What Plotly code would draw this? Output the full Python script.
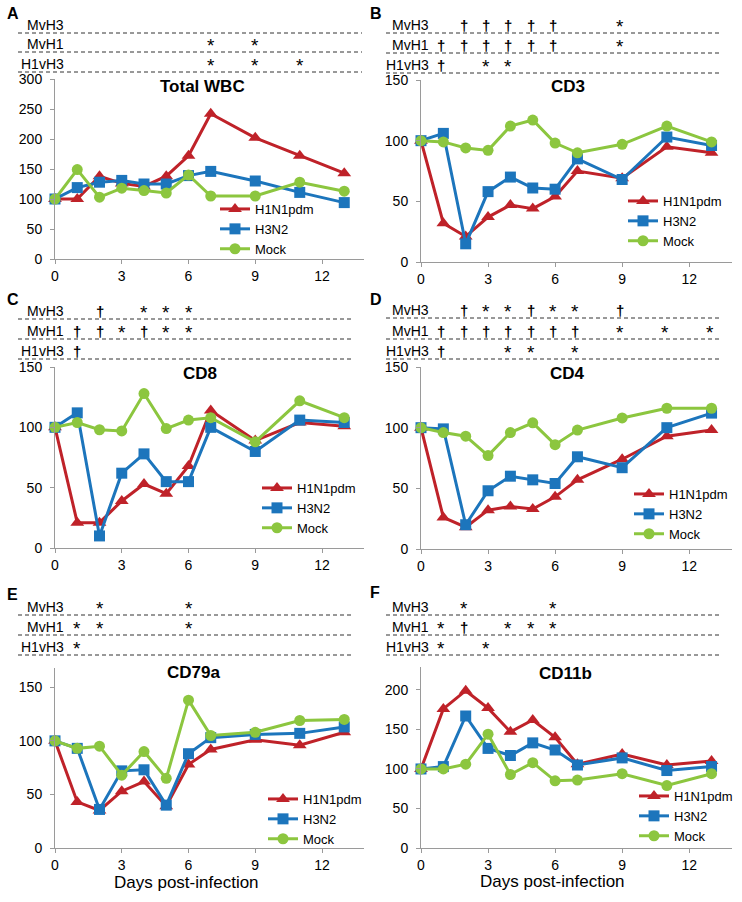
import plotly.graph_objects as go

W, H = 742, 902

days = [0, 1, 2, 3, 4, 5, 6, 7, 9, 11, 13]
series_names = ["H1N1pdm", "H3N2", "Mock"]
x_ticks = [0, 3, 6, 9, 12]

# Panel A - Total WBC
wbc_h1n1 = [100, 100, 138, 126, 121, 138, 172, 242, 202, 172, 143]
wbc_h3n2 = [100, 119, 128, 131, 125, 125, 139, 146, 130, 111, 94]
wbc_mock = [100, 149, 103, 118, 114, 110, 140, 105, 105, 128, 113]
# Panel B - CD3
cd3_h1n1 = [100, 32, 21, 37, 47, 44, 54, 75, 69, 95, 90]
cd3_h3n2 = [100, 106, 15, 58, 70, 61, 60, 85, 68, 103, 96]
cd3_mock = [100, 99, 94, 92, 112, 117, 98, 90, 97, 112, 99]
# Panel C - CD8
cd8_h1n1 = [100, 21, 21, 39, 53, 45, 68, 114, 89, 104, 101]
cd8_h3n2 = [100, 112, 10, 62, 78, 55, 55, 100, 80, 106, 104]
cd8_mock = [100, 104, 98, 97, 128, 99, 106, 108, 88, 122, 108]
# Panel D - CD4
cd4_h1n1 = [100, 26, 18, 32, 35, 33, 43, 57, 74, 93, 98]
cd4_h3n2 = [100, 99, 20, 48, 60, 57, 54, 76, 67, 100, 112]
cd4_mock = [100, 96, 93, 77, 96, 104, 86, 98, 108, 116, 116]
# Panel E - CD79a
cd79a_h1n1 = [100, 43, 35, 53, 62, 39, 78, 92, 101, 96, 108]
cd79a_h3n2 = [100, 93, 36, 72, 73, 40, 88, 103, 106, 107, 113]
cd79a_mock = [100, 93, 95, 68, 90, 65, 138, 105, 108, 119, 120]
# Panel F - CD11b
cd11b_h1n1 = [100, 176, 199, 177, 147, 162, 140, 106, 119, 105, 110]
cd11b_h3n2 = [100, 103, 167, 126, 117, 133, 124, 105, 114, 98, 103]
cd11b_mock = [100, 100, 106, 144, 93, 108, 85, 86, 94, 79, 94]

row_labels = ["MvH3", "MvH1", "H1vH3"]
# significance marks: (day, symbol) per comparison row
sig_A = [[], [(7, "*"), (9, "*")], [(7, "*"), (9, "*"), (11, "*")]]
sig_B = [[(2, "†"), (3, "†"), (4, "†"), (5, "†"), (6, "†"), (9, "*")],
         [(1, "†"), (2, "†"), (3, "†"), (4, "†"), (5, "†"), (6, "†"), (9, "*")],
         [(1, "†"), (3, "*"), (4, "*")]]
sig_C = [[(2, "†"), (4, "*"), (5, "*"), (6, "*")],
         [(1, "†"), (2, "†"), (3, "*"), (4, "†"), (5, "*"), (6, "*")],
         [(1, "†")]]
sig_D = [[(2, "†"), (3, "*"), (4, "*"), (5, "†"), (6, "*"), (7, "*"), (9, "†")],
         [(1, "†"), (2, "†"), (3, "†"), (4, "†"), (5, "†"), (6, "†"), (7, "†"),
          (9, "*"), (11, "*"), (13, "*")],
         [(1, "†"), (4, "*"), (5, "*"), (7, "*")]]
sig_E = [[(2, "*"), (6, "*")], [(1, "*"), (2, "*"), (6, "*")], [(1, "*")]]
sig_F = [[(2, "*"), (6, "*")],
         [(1, "*"), (2, "†"), (4, "*"), (5, "*"), (6, "*")],
         [(1, "*"), (3, "*")]]

colors = ["#BF2229", "#1C75BC", "#8CC63F"]
symbols = ["triangle-up", "square", "circle"]
marker_sizes = [12, 11, 11]
FONT = "Liberation Sans, Arial, sans-serif"

# layout geometry (pixels)
panels = [
    dict(letter="A", title="Total WBC", data=[wbc_h1n1, wbc_h3n2, wbc_mock], sig=sig_A,
         x0=55, ppd=22.25, y0=259, ytop=79, ymax=300, yticks=[0, 50, 100, 150, 200, 250, 300],
         dash_y=[33, 52, 72], dash_x=[18, 362], lab_x=65, tx=202, ty=87,
         leg=(255, 208), lx=5, ly=14, xshift=0),
    dict(letter="B", title="CD3", data=[cd3_h1n1, cd3_h3n2, cd3_mock], sig=sig_B,
         x0=421, ppd=22.35, y0=262, ytop=80, ymax=150, yticks=[0, 50, 100, 150],
         dash_y=[33, 53, 73], dash_x=[386, 719], lab_x=430, tx=568, ty=87,
         leg=(663, 200), lx=368, ly=14, xshift=-2),
    dict(letter="C", title="CD8", data=[cd8_h1n1, cd8_h3n2, cd8_mock], sig=sig_C,
         x0=55, ppd=22.25, y0=548, ytop=367, ymax=150, yticks=[0, 50, 100, 150],
         dash_y=[319, 339, 359], dash_x=[18, 353], lab_x=65, tx=200, ty=373,
         leg=(297, 487), lx=5, ly=300, xshift=0),
    dict(letter="D", title="CD4", data=[cd4_h1n1, cd4_h3n2, cd4_mock], sig=sig_D,
         x0=421, ppd=22.35, y0=549, ytop=367, ymax=150, yticks=[0, 50, 100, 150],
         dash_y=[318, 339, 359], dash_x=[386, 719], lab_x=430, tx=567, ty=373,
         leg=(669, 493), lx=368, ly=300, xshift=-2),
    dict(letter="E", title="CD79a", data=[cd79a_h1n1, cd79a_h3n2, cd79a_mock], sig=sig_E,
         x0=55, ppd=22.25, y0=848, ytop=668, ymax=168, yticks=[0, 50, 100, 150],
         dash_y=[615, 635, 655], dash_x=[18, 353], lab_x=65, tx=193, ty=672,
         leg=(303, 798), lx=5, ly=594, xshift=0),
    dict(letter="F", title="CD11b", data=[cd11b_h1n1, cd11b_h3n2, cd11b_mock], sig=sig_F,
         x0=421, ppd=22.35, y0=848, ytop=667, ymax=229, yticks=[0, 50, 100, 150, 200],
         dash_y=[615, 635, 655], dash_x=[386, 719], lab_x=430, tx=565, ty=673,
         leg=(674, 795), lx=368, ly=592, xshift=-2),
]

XMAX = 13.9


def px(x):
    return x / W


def py(y):
    return 1 - y / H


fig = go.Figure()
layout = dict(width=W, height=H, margin=dict(l=0, r=0, t=0, b=0, autoexpand=False),
              paper_bgcolor="white", plot_bgcolor="white",
              font=dict(family=FONT, size=14, color="black"), showlegend=True)
annotations = []
shapes = []

for i, p in enumerate(panels):
    n = i + 1
    xa = "xaxis" if n == 1 else f"xaxis{n}"
    ya = "yaxis" if n == 1 else f"yaxis{n}"
    xr = "x" if n == 1 else f"x{n}"
    yr = "y" if n == 1 else f"y{n}"
    lid = "legend" if n == 1 else f"legend{n}"

    layout[xa] = dict(domain=[px(p["x0"]), px(p["x0"] + XMAX * p["ppd"])], range=[0, XMAX],
                      anchor=yr, tickvals=x_ticks, ticks="outside", ticklen=4,
                      tickcolor="#9A9A9A", showline=True, linecolor="#9A9A9A",
                      linewidth=1, showgrid=False, zeroline=False,
                      tickfont=dict(size=14, family=FONT))
    layout[ya] = dict(domain=[py(p["y0"]), py(p["ytop"])], range=[0, p["ymax"]],
                      anchor=xr, tickvals=p["yticks"], ticks="outside", ticklen=4,
                      tickcolor="#9A9A9A", showline=True, linecolor="#9A9A9A",
                      linewidth=1, showgrid=False, zeroline=False, ticklabelstandoff=5,
                      tickfont=dict(size=14, family=FONT))
    layout[lid] = dict(x=px(p["leg"][0] - 40), y=py(p["leg"][1] - 14),
                       xanchor="left", yanchor="top", bgcolor="rgba(0,0,0,0)",
                       font=dict(size=13, family=FONT), borderwidth=0,
                       tracegroupgap=0)

    for s in range(3):
        fig.add_trace(go.Scatter(
            x=days, y=p["data"][s], name=series_names[s], mode="lines+markers",
            line=dict(color=colors[s], width=3),
            marker=dict(symbol=symbols[s], size=marker_sizes[s], color=colors[s]),
            xaxis=xr, yaxis=yr, legend=lid, cliponaxis=False))

    # panel letter
    annotations.append(dict(text=f"<b>{p['letter']}</b>", x=px(p["lx"]), y=py(p["ly"]),
                            xref="paper", yref="paper", xanchor="left", yanchor="middle",
                            showarrow=False, font=dict(size=16, family=FONT)))
    # panel title
    annotations.append(dict(text=f"<b>{p['title']}</b>", x=px(p["tx"]), y=py(p["ty"]),
                            xref="paper", yref="paper", xanchor="center", yanchor="middle",
                            showarrow=False, font=dict(size=17, family=FONT)))
    # dashed comparison rows
    for r in range(3):
        ly = p["dash_y"][r]
        shapes.append(dict(type="line", xref="paper", yref="paper",
                           x0=px(p["dash_x"][0]), x1=px(p["dash_x"][1]), y0=py(ly), y1=py(ly),
                           line=dict(color="#333333", width=1, dash="4px,3px")))
        annotations.append(dict(text=row_labels[r], x=px(p["lab_x"]), y=py(ly + 1),
                                xref="paper", yref="paper", xanchor="right", yanchor="bottom",
                                borderpad=0, showarrow=False, font=dict(size=14, family=FONT)))
        for d, sym in p["sig"][r]:
            if sym == "*":
                f = dict(size=19, family=FONT, color="black")
                yoff = ly + 5
                txt = sym
            else:
                f = dict(size=15, family=FONT, color="black")
                yoff = ly + 2
                txt = "<b>" + sym + "</b>"
            annotations.append(dict(text=txt, x=d, y=py(yoff), xref=xr, yref="paper",
                                    xanchor="center", yanchor="bottom", xshift=p["xshift"],
                                    borderpad=0, showarrow=False, font=f))

# x-axis titles on bottom panels
annotations.append(dict(text="Days post-infection", x=px(186), y=py(871), xref="paper",
                        yref="paper", xanchor="center", yanchor="top", showarrow=False,
                        font=dict(size=17, family=FONT)))
annotations.append(dict(text="Days post-infection", x=px(552), y=py(870), xref="paper",
                        yref="paper", xanchor="center", yanchor="top", showarrow=False,
                        font=dict(size=17, family=FONT)))

layout["annotations"] = annotations
layout["shapes"] = shapes
fig.update_layout(**layout)
fig.write_html("out.html", config={"displayModeBar": False},
               post_script="document.body.style.margin='0';")
